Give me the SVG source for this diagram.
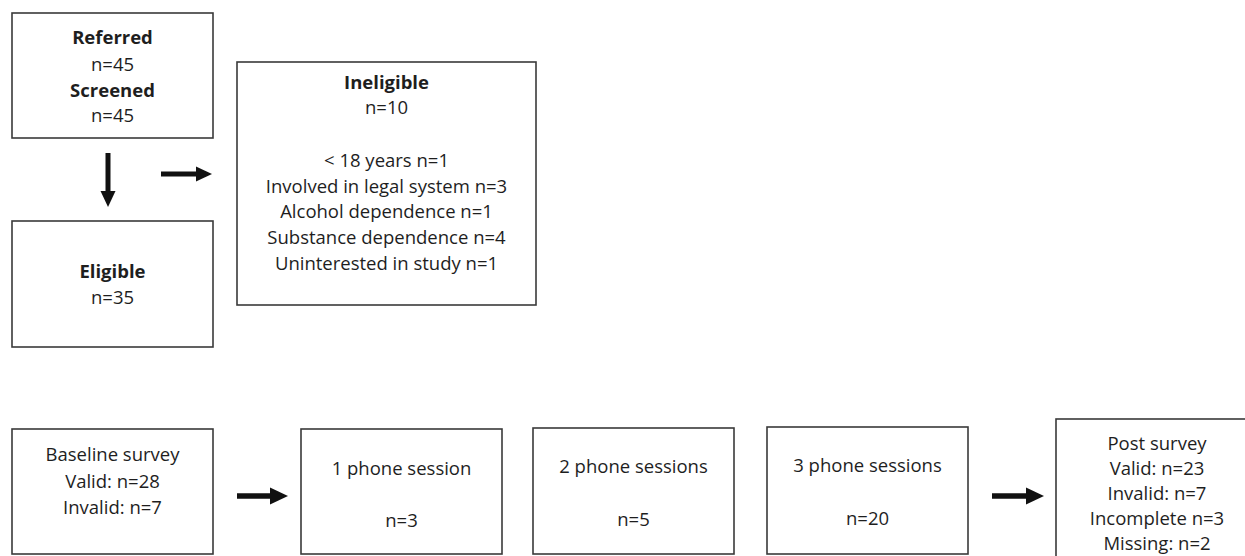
<svg xmlns="http://www.w3.org/2000/svg" width="1245" height="556" viewBox="0 0 1245 556">
<style>
.box{fill:#fff;stroke:#3a3a3a;stroke-width:1.6}
text{font-family:"Open Sans","Noto Sans",sans-serif;font-size:18.5px;fill:#1e1e1e;text-anchor:middle}
.b{font-weight:bold}
.arr{stroke:#111;stroke-width:5;fill:none}
.arr2{stroke:#111;stroke-width:5.5;fill:none}
</style>
<defs>
<marker id="head" markerUnits="userSpaceOnUse" markerWidth="16" markerHeight="15" refX="0" refY="7.5" orient="auto" overflow="visible">
<path d="M0,0 L16,7.5 L0,15 z" fill="#111"/>
</marker>
<marker id="head2" markerUnits="userSpaceOnUse" markerWidth="18" markerHeight="17" refX="0" refY="8.5" orient="auto" overflow="visible">
<path d="M0,0 L18,8.5 L0,17 z" fill="#111"/>
</marker>
</defs>
<rect width="1245" height="556" fill="#fff"/>
<g id="referred">
<rect class="box" x="12" y="13" width="201" height="125"/>
<text class="b" x="112.5" y="44">Referred</text>
<text x="112.5" y="70.5">n=45</text>
<text class="b" x="112.5" y="96.5">Screened</text>
<text x="112.5" y="122">n=45</text>
</g>
<g id="eligible">
<rect class="box" x="12" y="221" width="201" height="126"/>
<text class="b" x="112.5" y="278">Eligible</text>
<text x="112.5" y="304">n=35</text>
</g>
<g id="ineligible">
<rect class="box" x="237" y="62" width="299" height="243"/>
<text class="b" x="386.5" y="89">Ineligible</text>
<text x="386.5" y="114">n=10</text>
<text x="386.5" y="167">&lt; 18 years n=1</text>
<text x="386.5" y="192.5">Involved in legal system n=3</text>
<text x="386.5" y="218">Alcohol dependence n=1</text>
<text x="386.5" y="244">Substance dependence n=4</text>
<text x="386.5" y="270">Uninterested in study n=1</text>
</g>
<g id="baseline">
<rect class="box" x="12" y="429" width="201" height="125"/>
<text x="112.5" y="461">Baseline survey</text>
<text x="112.5" y="487.5">Valid: n=28</text>
<text x="112.5" y="514">Invalid: n=7</text>
</g>
<g id="phone1">
<rect class="box" x="301" y="429" width="201" height="125"/>
<text x="401.5" y="475">1 phone session</text>
<text x="401.5" y="527">n=3</text>
</g>
<g id="phone2">
<rect class="box" x="533" y="428" width="201" height="126"/>
<text x="633.5" y="473">2 phone sessions</text>
<text x="633.5" y="526">n=5</text>
</g>
<g id="phone3">
<rect class="box" x="767" y="427" width="201" height="127"/>
<text x="867.5" y="472">3 phone sessions</text>
<text x="867.5" y="525">n=20</text>
</g>
<g id="post">
<rect class="box" x="1056" y="419" width="210" height="150"/>
<text x="1157" y="450">Post survey</text>
<text x="1157" y="474.5">Valid: n=23</text>
<text x="1157" y="499.5">Invalid: n=7</text>
<text x="1157" y="525">Incomplete n=3</text>
<text x="1157" y="550">Missing: n=2</text>
</g>
<g id="connectors">
<line class="arr" x1="108" y1="153" x2="108" y2="191" marker-end="url(#head)"/>
<line class="arr" x1="161" y1="174" x2="196" y2="174" marker-end="url(#head)"/>
<line class="arr2" x1="237" y1="496" x2="270" y2="496" marker-end="url(#head2)"/>
<line class="arr2" x1="992" y1="496" x2="1026" y2="496" marker-end="url(#head2)"/>
</g>
</svg>
